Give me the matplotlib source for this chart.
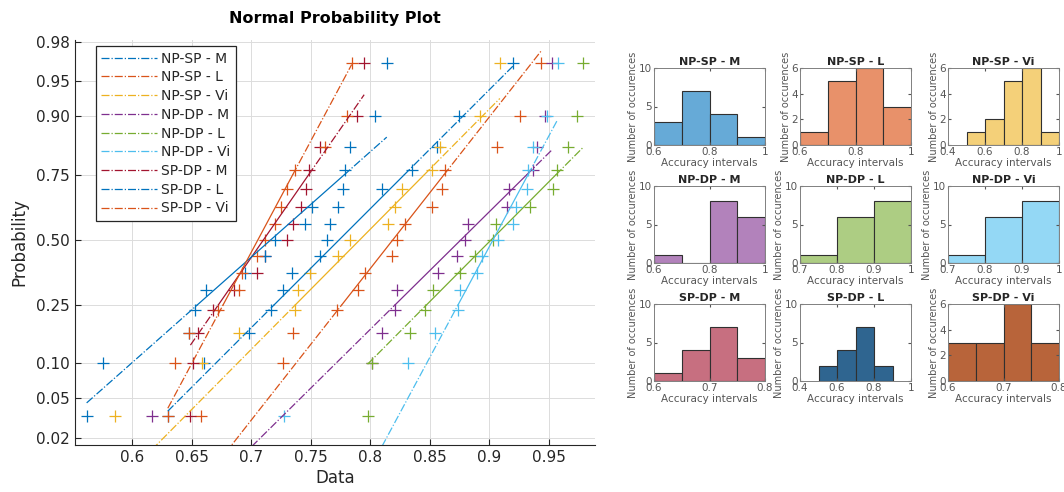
import matplotlib.pyplot as plt
import numpy as np
from statistics import NormalDist
from matplotlib.lines import Line2D

# series names and colours (MATLAB default order)
names = ['NP-SP - M', 'NP-SP - L', 'NP-SP - Vi', 'NP-DP - M', 'NP-DP - L',
         'NP-DP - Vi', 'SP-DP - M', 'SP-DP - L', 'SP-DP - Vi']
colors = ['#0072BD', '#D95319', '#EDB120', '#7E2F8E', '#77AC30',
          '#4DBEEE', '#A2142F', '#0072BD', '#D95319']

# accuracy values (15 per series)
np_sp_m = [0.630, 0.660, 0.698, 0.717, 0.7265, 0.734, 0.7576, 0.7634, 0.766,
           0.7727, 0.8097, 0.8349, 0.856, 0.875, 0.920]
np_sp_l = [0.658, 0.7265, 0.7349, 0.7718, 0.7895, 0.7954, 0.8181, 0.8223, 0.829,
           0.8517, 0.8601, 0.8626, 0.907, 0.926, 0.944]
np_sp_vi = [0.5853, 0.6584, 0.690, 0.7366, 0.7391, 0.7492, 0.7727, 0.7828, 0.8147,
            0.8206, 0.8265, 0.8517, 0.859, 0.892, 0.909]
np_dp_m = [0.6164, 0.802, 0.8097, 0.8206, 0.8223, 0.8567, 0.8727, 0.8794, 0.882,
           0.9147, 0.9164, 0.9366, 0.940, 0.947, 0.9525]
np_dp_l = [0.7979, 0.802, 0.8332, 0.8458, 0.8525, 0.8752, 0.8878, 0.903, 0.906,
           0.934, 0.954, 0.9567, 0.966, 0.9735, 0.979]
np_dp_vi = [0.728, 0.8315, 0.8542, 0.8735, 0.8752, 0.8895, 0.8937, 0.9071, 0.9197,
            0.923, 0.9315, 0.933, 0.9365, 0.949, 0.9575]
sp_dp_m = [0.649, 0.651, 0.655, 0.668, 0.686, 0.705, 0.712, 0.7298, 0.7349,
           0.742, 0.746, 0.749, 0.7576, 0.789, 0.795]
sp_dp_l = [0.5618, 0.5752, 0.648, 0.6525, 0.662, 0.695, 0.712, 0.7197, 0.745,
           0.751, 0.7769, 0.7786, 0.783, 0.804, 0.814]
sp_dp_vi = [0.630, 0.636, 0.648, 0.672, 0.690, 0.692, 0.705, 0.712, 0.720,
            0.725, 0.7298, 0.7366, 0.7618, 0.781, 0.7845]
series = [np_sp_m, np_sp_l, np_sp_vi, np_dp_m, np_dp_l,
          np_dp_vi, sp_dp_m, sp_dp_l, sp_dp_vi]

prob_ticks = [0.02, 0.05, 0.10, 0.25, 0.50, 0.75, 0.90, 0.95, 0.98]
data_ticks = [0.6, 0.65, 0.7, 0.75, 0.8, 0.85, 0.9, 0.95]

# histogram panels: bin edges and counts
hist_edges = [
    [0.6, 0.7, 0.8, 0.9, 1.0],
    [0.6, 0.7, 0.8, 0.9, 1.0],
    [0.5, 0.6, 0.7, 0.8, 0.9, 1.0],
    [0.6, 0.7, 0.8, 0.9, 1.0],
    [0.7, 0.8, 0.9, 1.0],
    [0.7, 0.8, 0.9, 1.0],
    [0.6, 0.65, 0.7, 0.75, 0.8],
    [0.5, 0.6, 0.7, 0.8, 0.9],
    [0.6, 0.65, 0.7, 0.75, 0.8],
]
hist_counts = [
    [3, 7, 4, 1],
    [1, 5, 6, 3],
    [1, 2, 5, 6, 1],
    [1, 0, 8, 6],
    [1, 6, 8],
    [1, 6, 8],
    [1, 4, 7, 3],
    [2, 4, 7, 2],
    [3, 3, 6, 3],
]
hist_colors = ['#66AAD7', '#E8916A', '#F4D079', '#B282BB', '#ADCD83',
               '#94D8F5', '#C76F80', '#2F6590', '#B8643A']
hist_xlim = [(0.6, 1), (0.6, 1), (0.4, 1), (0.6, 1), (0.7, 1), (0.7, 1),
             (0.6, 0.8), (0.4, 1), (0.6, 0.8)]
hist_xticks = [[0.6, 0.8, 1], [0.6, 0.8, 1], [0.4, 0.6, 0.8, 1], [0.6, 0.8, 1],
               [0.7, 0.8, 0.9, 1], [0.7, 0.8, 0.9, 1], [0.6, 0.7, 0.8],
               [0.4, 0.6, 0.8, 1], [0.6, 0.7, 0.8]]
hist_ymax = [10, 6, 6, 10, 10, 10, 10, 10, 6]

W, H = 1064, 492
fig = plt.figure(figsize=(W / 100, H / 100), dpi=100)
txt = '#262626'

# ---- normal probability plot ----
ax = fig.add_axes([75 / W, 1 - 445 / H, 520 / W, 405 / H])
nd = NormalDist()
z25, z75 = nd.inv_cdf(0.25), nd.inv_cdf(0.75)
for vals, c in zip(series, colors):
    x = np.sort(vals)
    n = len(x)
    z = [nd.inv_cdf((i - 0.5) / n) for i in range(1, n + 1)]
    ax.plot(x, z, '+', color=c, ms=9, mew=0.9)
for vals, c in zip(series, colors):
    x = np.sort(vals)
    q1, q3 = np.percentile(x, [25, 75], method='hazen')
    k = (z75 - z25) / (q3 - q1)
    zmin = z25 + (x[0] - q1) * k
    zmax = z25 + (x[-1] - q1) * k
    ax.plot([q1, q3], [z25, z75], '-', color=c, lw=0.9)
    ax.plot([x[0], q1], [zmin, z25], '-.', color=c, lw=0.9)
    ax.plot([q3, x[-1]], [z75, zmax], '-.', color=c, lw=0.9)

ax.set_xlim(0.552, 0.989)
ax.set_ylim(-2.13, 2.075)
ax.set_yticks([nd.inv_cdf(p) for p in prob_ticks])
ax.set_yticklabels(['%.2f' % p for p in prob_ticks])
ax.set_xticks(data_ticks)
ax.set_xticklabels(['%g' % v for v in data_ticks])
ax.tick_params(direction='in', length=4, labelsize=11, colors=txt)
ax.grid(True, color='#dcdcdc', lw=0.7)
ax.set_axisbelow(True)
for s in ['top', 'right']:
    ax.spines[s].set_visible(False)
for s in ['left', 'bottom']:
    ax.spines[s].set_color(txt)
ax.set_title('Normal Probability Plot', fontsize=11.5, fontweight='bold', pad=12)
ax.set_xlabel('Data', fontsize=12, color=txt, labelpad=3)
ax.set_ylabel('Probability', fontsize=12, color=txt, labelpad=6)

handles = [Line2D([0], [0], color=c, ls='-.', lw=0.9) for c in colors]
leg = ax.legend(handles, names, loc='upper left', bbox_to_anchor=(0.04, 0.985),
                borderaxespad=0, fontsize=10, handlelength=4.0, handletextpad=0.3,
                labelspacing=0.34, borderpad=0.4, fancybox=False,
                framealpha=1, edgecolor=txt)
leg.get_frame().set_linewidth(0.9)
for t in leg.get_texts():
    t.set_color(txt)

# ---- histogram grid ----
cols = [654, 800, 948]
rows = [145, 263, 381]
for k in range(9):
    r, cidx = divmod(k, 3)
    hx = fig.add_axes([cols[cidx] / W, 1 - rows[r] / H, 111 / W, 77 / H])
    e = np.array(hist_edges[k])
    hx.bar(e[:-1], hist_counts[k], width=np.diff(e), align='edge',
           color=hist_colors[k], edgecolor='#303030', lw=0.8)
    hx.set_xlim(*hist_xlim[k])
    hx.set_ylim(0, hist_ymax[k])
    hx.set_xticks(hist_xticks[k])
    hx.set_xticklabels(['%g' % v for v in hist_xticks[k]])
    if hist_ymax[k] == 10:
        hx.set_yticks([0, 5, 10])
    else:
        hx.set_yticks([0, 2, 4, 6])
    hx.tick_params(direction='in', length=2, labelsize=7.5, colors='#555555', pad=1.5,
                   top=True, right=True)
    for s in hx.spines.values():
        s.set_color('#808080')
        s.set_linewidth(0.7)
    hx.set_title(names[k], fontsize=8, fontweight='bold', pad=2, color=txt)
    hx.set_xlabel('Accuracy intervals', fontsize=7.5, color='#555555', labelpad=1)
    hx.set_ylabel('Number of occurences', fontsize=7, color='#555555', labelpad=0.5)

fig.savefig('out.png', dpi=100)
